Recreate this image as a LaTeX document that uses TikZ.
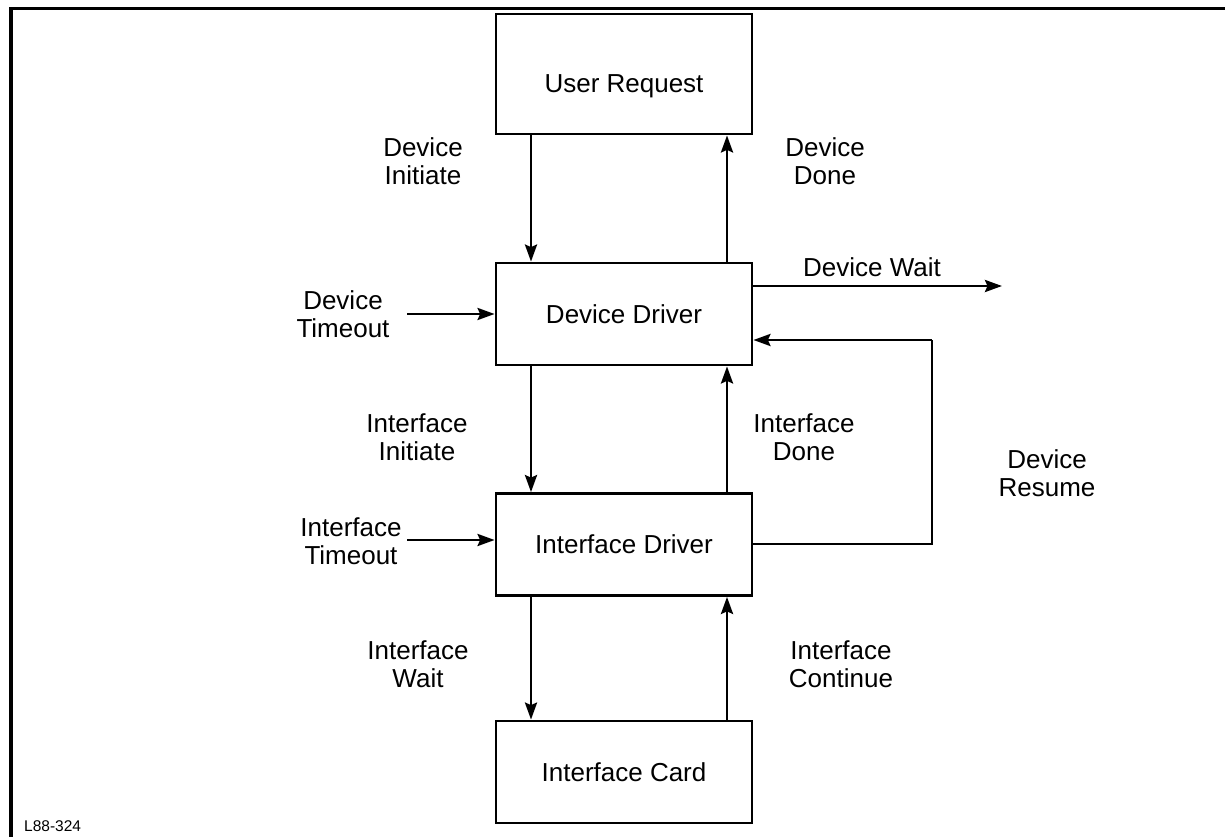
\documentclass[tikz,border=0pt]{standalone}
\usepackage{fontspec}
\setmainfont{Liberation Sans}
\usetikzlibrary{arrows.meta}
\begin{document}
\begin{tikzpicture}[x=1pt,y=-1pt,
  every node/.style={font=\fontsize{26}{28.5}\selectfont, align=center, inner sep=0pt},
  block/.style={draw, line width=2.8pt, minimum width=256, minimum height=102},
  flow/.style={line width=2.8pt, -{Stealth[length=17pt,width=12pt,inset=2.5pt]}},
  wire/.style={line width=2.8pt},
  frame/.style={line width=3.6pt}]
\useasboundingbox (0,0) rectangle (1225,837);
% open frame along the top and left edges
\draw[frame] (11,840) -- (11,8.5) -- (1228,8.5);

% blocks
\node[block, minimum height=120, text height=43pt, text depth=5pt] (ur) at (624,74) {User Request};
\node[block] (dd) at (624,314) {Device Driver};
\node[block] (id) at (624,544.5) {Interface Driver};
\node[block] (ic) at (624,772) {Interface Card};

% connector columns and free ends
\coordinate (xl) at (531,0);
\coordinate (xr) at (727,0);
\coordinate (waitend) at (1002,286);
\coordinate (dto) at (407,314);
\coordinate (ito) at (407,540);
\coordinate (rs) at (932,340);
\coordinate (re) at (932,544);

% vertical flows
\draw[flow] (ur.south -| xl) -- (dd.north -| xl);
\draw[flow] (dd.north -| xr) -- (ur.south -| xr);
\draw[flow] (dd.south -| xl) -- (id.north -| xl);
\draw[flow] (id.north -| xr) -- (dd.south -| xr);
\draw[flow] (id.south -| xl) -- (ic.north -| xl);
\draw[flow] (ic.north -| xr) -- (id.south -| xr);

% side flows
\draw[flow] (dd.east |- waitend) -- (waitend);
\draw[flow] (dto) -- (dd.west |- dto);
\draw[flow] (ito) -- (id.west |- ito);
\draw[wire] (id.east |- re) -- (re) -- (rs);
\draw[flow] (rs) -- (dd.east |- rs);

% labels
\node (l1) at (423,161) {Device\\Initiate};
\node (l2) at (825,161) {Device\\Done};
\node (l3) at (872,267) {Device Wait};
\node (l4) at (343,314) {Device\\Timeout};
\node (l5) at (417,437) {Interface\\Initiate};
\node (l6) at (804,437) {Interface\\Done};
\node (l7) at (1047,473) {Device\\Resume};
\node (l8) at (351,541) {Interface\\Timeout};
\node (l9) at (418,664) {Interface\\Wait};
\node (l10) at (841,664) {Interface\\Continue};
\node[font=\fontsize{15.5}{18}\selectfont, anchor=west] (tag) at (24,826) {L88-324};
\end{tikzpicture}
\end{document}
